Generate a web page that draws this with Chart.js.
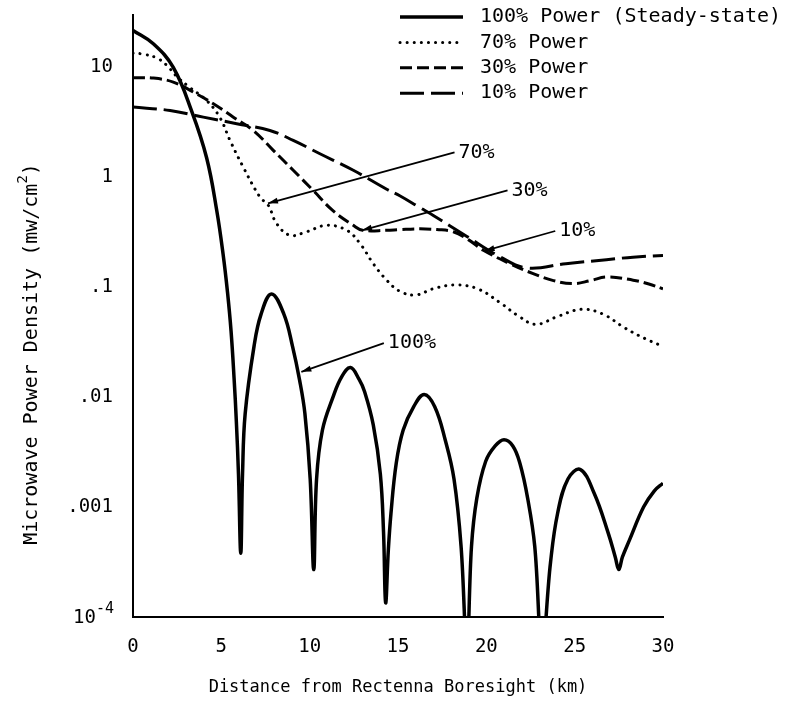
<!DOCTYPE html>
<html>
<head>
<meta charset="utf-8">
<script src="https://cdn.jsdelivr.net/npm/chart.js@4.4.1/dist/chart.umd.min.js"></script>
<style>
  html, body { margin: 0; padding: 0; background: #fff; }
</style>
</head>
<body>
<canvas id="chart" width="793" height="704"></canvas>
<script>
  const FONT = "'DejaVu Sans Mono', monospace";

  // 100% power (steady-state)
  const dist100 = [0, 1.15, 2.28, 3.32, 4.17, 4.74, 5.1, 5.35, 5.55, 5.72, 5.85, 5.97, 6.1, 6.2, 6.35, 6.85, 7.25, 7.84, 8.54, 9.03, 9.43, 9.73, 10.03, 10.23, 10.39, 10.72, 11.32, 11.81, 12.31, 12.8, 13.11, 13.6, 14.0, 14.18, 14.3, 14.45, 14.6, 14.9, 15.29, 15.89, 16.48, 17.08, 17.67, 18.17, 18.57, 18.9, 19.16, 19.46, 19.96, 20.5, 21.0, 21.5, 21.9, 22.34, 22.74, 23.15, 23.63, 24.03, 24.62, 25.32, 26.11, 26.9, 27.3, 27.5, 27.7, 28.1, 28.9, 29.5, 30];
  const power100 = [21.7, 16.4, 10.0, 4.0, 1.5, 0.5, 0.2, 0.09, 0.04, 0.015, 0.006, 0.002, 0.00038, 0.002, 0.0071, 0.029, 0.057, 0.087, 0.057, 0.029, 0.0143, 0.0071, 0.0018, 0.00027, 0.0018, 0.005, 0.01, 0.0153, 0.0186, 0.0145, 0.0112, 0.0056, 0.002, 0.0006, 0.000135, 0.0004, 0.00087, 0.0025, 0.005, 0.0082, 0.0106, 0.0082, 0.0041, 0.0018, 0.00044, 0.00005, 0.00044, 0.0012, 0.0026, 0.0036, 0.0041, 0.0036, 0.0025, 0.0012, 0.00044, 0.00005, 0.00031, 0.00087, 0.0018, 0.0022, 0.00133, 0.00058, 0.00035, 0.00027, 0.00035, 0.0005, 0.001, 0.0014, 0.00165];

  // 70% power
  const dist70 = [0, 0.6, 1.34, 1.9, 2.5, 3.2, 4.17, 4.92, 5.49, 6.24, 7.19, 7.66, 8.13, 8.89, 9.83, 10.96, 12.1, 12.85, 13.6, 14.36, 15.1, 16.0, 17.0, 18.2, 19.5, 20.8, 21.8, 22.8, 24.0, 25.4, 26.6, 27.8, 29.0, 30];
  const power70 = [13.5, 13.2, 12.2, 10.5, 8.2, 6.6, 5.0, 3.5, 2.17, 1.24, 0.66, 0.556, 0.38, 0.297, 0.32, 0.366, 0.33, 0.25, 0.164, 0.116, 0.092, 0.085, 0.097, 0.105, 0.097, 0.072, 0.055, 0.046, 0.054, 0.063, 0.057, 0.043, 0.034, 0.029];

  // 30% power
  const dist30 = [0, 1.15, 2.28, 3.41, 4.55, 5.68, 6.81, 7.94, 9.07, 10.2, 11.3, 12.47, 13.0, 14.36, 15.1, 16.24, 17.2, 18.13, 19.0, 19.83, 21.34, 22.65, 23.8, 24.92, 25.9, 26.81, 28.31, 29.2, 30];
  const power30 = [8.06, 8.0, 7.36, 5.97, 4.68, 3.53, 2.67, 1.76, 1.16, 0.76, 0.5, 0.366, 0.33, 0.33, 0.335, 0.34, 0.335, 0.32, 0.27, 0.217, 0.164, 0.133, 0.115, 0.108, 0.115, 0.124, 0.116, 0.107, 0.097];

  // 10% power
  const dist10 = [0, 2.1, 3.98, 5.87, 7.75, 9.07, 10.58, 12.47, 14.36, 15.1, 16.24, 17.0, 18.9, 20.77, 22.28, 24.5, 26.8, 28.3, 30];
  const power10 = [4.36, 4.06, 3.53, 3.08, 2.67, 2.17, 1.64, 1.16, 0.78, 0.68, 0.53, 0.45, 0.29, 0.19, 0.15, 0.164, 0.178, 0.188, 0.195];

  const seriesNames = ["100% Power (Steady-state)", "70% Power", "30% Power", "10% Power"];
  const xTicks = [0, 5, 10, 15, 20, 25, 30];
  const yTicks = [0.0001, 0.001, 0.01, 0.1, 1, 10];
  const yTickLabels = ["10^-4", ".001", ".01", ".1", "1", "10"];

  // callouts: label, label anchor (x, y) and arrow tip (x, y) in data units
  const calloutLabels = ["70%", "30%", "10%", "100%"];
  const calloutFrom = [[18.2, 1.69], [21.2, 0.76], [23.9, 0.325], [14.2, 0.031]];
  const calloutTip = [[7.64, 0.58], [12.96, 0.33], [19.9, 0.214], [9.53, 0.017]];

  const pts = (xs, ys) => xs.map((x, i) => ({ x: x, y: ys[i] }));

  // Legend drawn top right, y-title with superscript, callouts with arrows
  const extrasPlugin = {
    id: "extras",
    afterDatasetsDraw(chart) {
      const ctx = chart.ctx;
      const xs = chart.scales.x;
      const ys = chart.scales.y;

      ctx.save();
      ctx.strokeStyle = "#000";
      ctx.fillStyle = "#000";
      ctx.lineWidth = 1.8;
      ctx.font = "20px " + FONT;
      ctx.textBaseline = "middle";
      ctx.textAlign = "left";
      calloutLabels.forEach((label, i) => {
        const x1 = xs.getPixelForValue(calloutFrom[i][0]);
        const y1 = ys.getPixelForValue(calloutFrom[i][1]);
        const x2 = xs.getPixelForValue(calloutTip[i][0]);
        const y2 = ys.getPixelForValue(calloutTip[i][1]);
        ctx.beginPath();
        ctx.moveTo(x1, y1);
        ctx.lineTo(x2, y2);
        ctx.stroke();
        const ang = Math.atan2(y2 - y1, x2 - x1);
        ctx.beginPath();
        ctx.moveTo(x2, y2);
        ctx.lineTo(x2 - 10 * Math.cos(ang) + 3 * Math.sin(ang), y2 - 10 * Math.sin(ang) - 3 * Math.cos(ang));
        ctx.lineTo(x2 - 10 * Math.cos(ang) - 3 * Math.sin(ang), y2 - 10 * Math.sin(ang) + 3 * Math.cos(ang));
        ctx.closePath();
        ctx.fill();
        ctx.fillText(label, x1 + 4, y1);
      });
      ctx.restore();

      // legend
      ctx.save();
      chart.data.datasets.forEach((ds, i) => {
        const y = 17 + i * 25.4;
        ctx.beginPath();
        ctx.strokeStyle = "#000";
        ctx.lineWidth = ds.borderWidth;
        ctx.lineCap = ds.borderCapStyle || "butt";
        ctx.setLineDash(ds.borderDash || []);
        ctx.moveTo(400, y);
        ctx.lineTo(463, y);
        ctx.stroke();
        ctx.setLineDash([]);
        ctx.fillStyle = "#000";
        ctx.font = "20px " + FONT;
        ctx.textBaseline = "middle";
        ctx.textAlign = "left";
        ctx.fillText(ds.label, 480, y);
      });
      ctx.restore();

      // 10^-4 tick label
      ctx.save();
      ctx.fillStyle = "#000";
      ctx.textBaseline = "middle";
      ctx.textAlign = "left";
      const yb = ys.getPixelForValue(0.0001);
      ctx.font = "19px " + FONT;
      const wBase = ctx.measureText("10").width;
      ctx.font = "15px " + FONT;
      const wExp = ctx.measureText("-4").width;
      const xStart = 114 - wBase - wExp;
      ctx.font = "19px " + FONT;
      ctx.fillText("10", xStart, yb + 1);
      ctx.font = "15px " + FONT;
      ctx.fillText("-4", xStart + wBase, yb - 8);
      ctx.restore();

      // y axis title
      ctx.save();
      ctx.translate(32, 354);
      ctx.rotate(-Math.PI / 2);
      ctx.fillStyle = "#000";
      ctx.textBaseline = "middle";
      ctx.textAlign = "left";
      const main = "Microwave Power Density (mw/cm";
      ctx.font = "20px " + FONT;
      const wMain = ctx.measureText(main).width;
      const wClose = ctx.measureText(")").width;
      ctx.font = "14px " + FONT;
      const wSup = ctx.measureText("2").width;
      const total = wMain + wSup + wClose;
      let cx = -total / 2;
      ctx.font = "20px " + FONT;
      ctx.fillText(main, cx, 0);
      cx += wMain;
      ctx.font = "14px " + FONT;
      ctx.fillText("2", cx, -9);
      cx += wSup;
      ctx.font = "20px " + FONT;
      ctx.fillText(")", cx, 0);
      ctx.restore();
    },
  };

  const ctx = document.getElementById("chart");

  new Chart(ctx, {
    type: "line",
    data: {
      datasets: [
        {
          label: seriesNames[0],
          data: pts(dist100, power100),
          borderColor: "#000",
          borderWidth: 3.5,
          pointRadius: 0,
          tension: 0.4,
        },
        {
          label: seriesNames[1],
          data: pts(dist70, power70),
          borderColor: "#000",
          borderWidth: 3,
          borderDash: [0.1, 7],
          borderCapStyle: "round",
          pointRadius: 0,
          tension: 0.4,
        },
        {
          label: seriesNames[2],
          data: pts(dist30, power30),
          borderColor: "#000",
          borderWidth: 3,
          borderDash: [12, 5],
          pointRadius: 0,
          tension: 0.4,
        },
        {
          label: seriesNames[3],
          data: pts(dist10, power10),
          borderColor: "#000",
          borderWidth: 3,
          borderDash: [24, 7],
          pointRadius: 0,
          tension: 0.4,
        },
      ],
    },
    options: {
      responsive: false,
      animation: false,
      events: [],
      layout: { padding: { top: 15, right: 130, bottom: 0, left: 0 } },
      plugins: {
        legend: { display: false },
        tooltip: { enabled: false },
      },
      scales: {
        x: {
          type: "linear",
          min: 0,
          max: 30,
          afterFit: (scale) => {
            scale.height = 87;
            scale.paddingLeft = 0;
            scale.paddingRight = 0;
          },
          afterBuildTicks: (scale) => { scale.ticks = xTicks.map((v) => ({ value: v })); },
          grid: { display: false },
          border: { display: true, color: "#000", width: 2 },
          ticks: { color: "#000", padding: 11, font: { family: FONT, size: 19 } },
          title: {
            display: true,
            text: "Distance from Rectenna Boresight (km)",
            color: "#000",
            font: { family: FONT, size: 17 },
            padding: { top: 0, bottom: 6 },
          },
        },
        y: {
          type: "logarithmic",
          min: 0.0001,
          max: 30,
          afterFit: (scale) => {
            scale.width = 133;
            scale.paddingTop = 0;
            scale.paddingBottom = 0;
          },
          afterBuildTicks: (scale) => { scale.ticks = yTicks.map((v) => ({ value: v })); },
          grid: { display: false },
          border: { display: true, color: "#000", width: 2 },
          ticks: {
            color: "#000",
            padding: 12,
            font: { family: FONT, size: 19 },
            callback: (value) => {
              const label = yTickLabels[yTicks.indexOf(value)];
              return label && label.indexOf("^") < 0 ? label : "";
            },
          },
        },
      },
    },
    plugins: [extrasPlugin],
  });
</script>
</body>
</html>
